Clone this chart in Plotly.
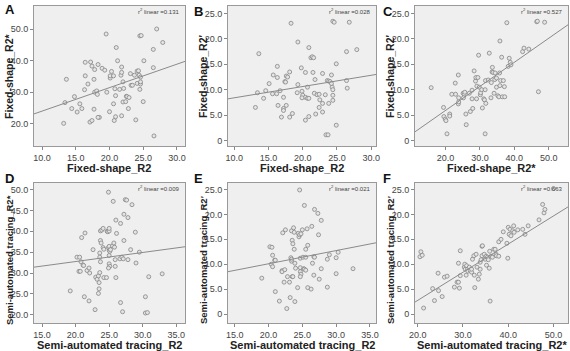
import plotly.graph_objects as go

# ---------------- data ----------------
A_x = [13.2,13.6,13.4,14.4,14.8,15.2,15.6,15.9,16.3,16.4,16.4,16.8,17.2,17.4,17.1,17.4,17.7,17.8,17.8,17.7,
       18.1,18.3,18.2,18.5,18.3,18.9,19.3,19.5,19.6,20.1,20.1,20.0,20.3,20.6,20.8,20.6,20.7,20.9,21.0,21.2,
       20.9,21.5,21.7,21.8,21.8,21.8,22.0,22.1,22.0,22.4,22.5,22.6,22.9,22.8,23.1,23.2,23.4,23.9,23.7,24.1,
       24.1,24.3,24.4,24.5,24.7,24.5,24.6,24.6,24.6,25.0,25.1,26.5,26.5,26.6,27.0,27.9]
A_y = [20.1,34.1,26.7,24.8,28.6,23.7,26.3,24.8,30.8,39.5,35.2,32.6,39.6,38.3,20.5,21.0,34.1,37.2,30.0,24.6,
       30.4,38.8,29.3,22.0,22.0,37.6,37.0,48.5,30.0,34.5,35.2,23.8,36.6,35.2,31.1,26.3,21.0,28.9,44.2,40.0,
       22.2,30.9,35.4,36.3,38.0,22.5,33.3,31.2,26.9,27.0,28.7,28.6,28.3,24.8,35.9,32.2,32.2,21.2,35.4,32.8,
       36.7,36.8,35.4,47.9,48.0,30.9,32.6,34.8,33.3,27.0,40.0,43.6,37.8,16.1,50.1,45.8]

B_x = [13.1,13.4,14.3,14.6,15.1,15.6,15.7,16.3,16.3,16.2,16.4,16.7,17.2,17.2,17.2,16.9,17.4,17.5,17.6,17.6,
       17.8,18.1,18.1,18.5,19.2,19.3,19.8,19.9,13.6,18.3,24.4,24.6,26.8,19.3,20.9,21.2,21.4,21.6,26.4,27.9,
       24.9,20.4,21.5,22.9,24.2,21.8,23.6,23.8,24.0,24.2,26.4,20.7,24.3,24.4,26.5,20.0,20.4,20.7,20.9,19.9,
       21.7,22.1,22.4,23.3,24.4,22.5,24.4,23.8,22.9,22.4,22.9,21.9,20.9,20.4,24.9,23.4,23.7]
B_y = [6.5,9.4,8.3,9.8,11.2,9.2,12.9,14.6,12.4,9.2,6.9,9.8,8.5,6.3,5.9,4.6,11.6,11.5,6.9,12.7,
       12.5,13.5,4.6,5.3,9.4,11.0,14.3,9.7,17.1,23.1,23.5,23.3,23.3,19.4,18.3,16.3,16.5,16.3,17.5,17.9,
       15.1,13.4,13.4,13.2,12.9,12.0,11.8,11.7,11.6,11.2,11.8,10.5,10.5,10.0,10.3,8.9,8.5,8.3,8.3,8.4,
       9.3,9.0,9.1,9.0,8.9,8.0,7.9,7.3,7.3,6.5,5.6,5.2,4.7,4.0,3.0,1.1,1.1]

C_x = [15.8,19.4,19.5,19.9,20.1,20.4,21.2,21.2,21.8,22.8,22.9,23.7,23.7,23.8,23.8,25.1,25.4,25.6,25.9,26.0,
       25.2,26.9,27.2,27.7,27.9,27.7,28.3,28.7,28.8,29.4,29.1,29.0,29.6,29.8,30.1,30.2,30.5,30.7,31.1,31.3,
       31.5,31.5,31.6,31.7,32.4,32.7,33.2,33.3,33.6,33.5,33.8,34.1,34.3,34.4,34.8,34.8,35.2,35.5,35.7,35.8,
       36.0,35.8,36.3,36.5,36.8,37.1,37.2,37.8,38.2,38.5,38.8,39.0,42.4,42.8,44.2,46.5,46.7,47.0,48.8]
C_y = [10.4,6.5,4.7,4.2,3.9,1.3,5.2,4.8,9.1,11.3,9.1,12.9,7.2,7.6,8.4,9.3,9.1,9.5,5.2,3.1,
       8.4,9.3,5.7,8.2,6.3,9.9,13.7,11.7,12.4,12.4,10.7,8.2,16.8,10.5,9.0,9.4,10.0,6.4,8.2,8.0,
       1.3,10.0,11.8,7.3,11.9,17.2,8.4,11.4,14.4,13.5,13.4,9.3,12.0,13.3,12.3,10.5,8.8,8.6,13.3,10.8,
       11.8,19.6,16.4,8.6,11.8,10.6,8.6,23.2,14.6,16.2,15.4,14.9,17.5,18.2,18.0,23.4,23.5,9.6,23.3]

D_x = [19.2,21.3,22.0,20.2,20.6,20.5,20.7,20.8,21.1,21.2,20.9,21.4,21.7,22.0,22.1,22.6,23.0,23.2,23.4,23.6,
       23.7,23.5,23.4,23.5,22.9,23.6,23.6,23.7,23.8,23.7,23.9,24.1,24.1,24.2,24.2,24.6,24.7,24.8,25.0,25.0,
       24.9,24.9,25.0,25.1,25.0,25.0,25.1,24.9,25.0,25.2,25.5,25.7,25.8,25.9,25.9,25.6,26.0,26.1,26.0,26.7,
       26.6,26.7,26.9,27.1,27.0,27.2,27.2,27.4,27.6,27.8,27.8,28.2,28.4,28.9,29.0,29.5,30.4,30.4,30.7,30.9,32.9]
D_y = [25.7,24.3,23.3,33.8,33.8,30.4,30.4,32.7,31.9,31.8,38.5,39.6,30.6,31.2,30.0,35.6,29.0,28.5,29.3,30.1,
       32.7,27.7,25.1,26.2,21.2,34.8,33.8,37.8,37.2,40.1,40.3,40.7,36.1,35.7,28.9,28.9,40.0,39.9,40.1,40.7,
       49.4,36.1,35.4,35.2,34.2,32.2,31.6,31.2,36.4,35.6,36.5,37.2,36.2,33.2,31.6,47.2,42.7,39.5,28.9,41.9,
       33.4,22.9,33.8,33.4,20.7,44.1,37.8,47.6,47.5,43.3,33.2,35.6,46.4,39.8,32.4,35.0,24.3,20.4,20.5,29.1,29.8]

E_x = [19.0,20.2,20.5,20.6,20.4,20.6,20.9,21.0,21.0,21.6,22.1,22.0,22.0,22.4,22.3,22.5,22.7,22.8,23.1,23.2,
       23.3,23.4,23.4,23.5,23.6,23.4,23.5,23.6,23.7,23.8,23.8,23.9,23.9,24.0,24.3,24.4,24.5,24.6,24.6,24.7,
       24.7,24.7,24.8,24.7,24.8,25.0,25.1,25.2,25.3,25.3,25.5,25.5,25.5,25.7,25.8,25.8,26.3,26.4,26.5,26.7,
       26.7,26.8,26.8,27.3,27.4,27.5,27.8,27.8,28.7,28.7,29.0,30.0,30.0,30.3,32.5]
E_y = [7.2,13.5,13.4,11.8,10.0,9.5,10.8,10.8,4.5,2.6,16.3,8.7,8.5,8.9,6.4,16.9,1.1,7.5,6.4,3.3,
       11.3,10.6,11.0,7.5,7.5,16.7,14.8,14.1,17.3,16.4,13.0,2.5,10.2,9.2,5.3,16.2,15.5,24.9,15.9,11.2,
       9.3,8.5,8.0,7.5,16.1,16.9,11.4,9.1,21.8,9.0,11.4,13.0,8.8,17.1,13.8,5.3,5.0,17.6,10.2,7.8,
       11.5,11.4,21.0,20.2,15.9,7.0,18.8,9.1,5.4,11.0,11.9,8.1,11.3,12.4,9.1]

F_x = [20.5,20.7,21.0,21.3,23.3,23.7,24.5,24.6,25.4,25.9,26.5,28.1,28.7,29.0,29.0,29.2,29.4,29.4,30.3,30.4,
       30.5,30.7,30.8,31.0,31.1,31.4,31.6,31.9,31.9,32.1,32.4,32.5,32.6,32.9,33.1,33.4,33.6,33.8,33.8,34.0,
       34.2,34.3,34.2,34.7,34.9,35.1,35.2,35.4,35.8,35.6,35.9,36.0,36.2,36.5,36.8,37.1,37.3,37.4,37.9,37.9,
       38.4,38.9,39.7,39.9,40.0,40.2,40.4,40.6,41.0,41.2,41.3,42.1,43.2,43.7,44.4,46.8,47.6,47.9,48.1,50.0]
F_y = [11.5,12.5,11.8,1.2,5.1,2.7,8.2,4.7,3.5,7.4,7.6,5.4,6.4,6.4,10.2,5.2,12.7,7.7,9.4,10.0,
       9.0,7.8,9.7,9.0,8.6,9.4,8.7,8.4,9.0,11.0,11.7,7.8,5.3,12.0,9.4,7.0,8.0,9.0,10.4,10.9,
       13.6,13.7,11.7,12.0,11.0,11.6,9.8,11.4,9.2,10.9,12.6,2.6,11.6,11.4,13.0,13.0,12.0,11.7,11.6,14.5,
       15.0,16.5,14.2,11.2,17.4,16.0,17.0,15.7,16.7,17.7,16.4,16.9,17.0,16.0,17.7,18.9,22.0,20.3,21.0,25.2]

# fit lines (value at each end of the x range)
fit_lines = {
    "A": ([8.8, 31.2], [23.1, 39.8]),
    "B": ([9.1, 30.7], [8.2, 13.0]),
    "C": ([11.1, 55.6], [1.7, 22.8]),
    "D": ([13.8, 36.3], [31.4, 36.3]),
    "E": ([14.0, 35.9], [8.5, 14.3]),
    "F": ([19.4, 53.2], [2.4, 21.5]),
}
r2_values = {"A": "0.131", "B": "0.028", "C": "0.527", "D": "0.009", "E": "0.021", "F": "0.663"}

x_titles = {"A": "Fixed-shape_R2", "B": "Fixed-shape_R2", "C": "Fixed-shape_R2*",
            "D": "Semi-automated tracing_R2", "E": "Semi-automated tracing_R2", "F": "Semi-automated tracing_R2*"}
y_titles = {"A": "Fixed-shape_R2*", "B": "Fixed-shape_R2′", "C": "Fixed-shape_R2′",
            "D": "Semi-automated tracing_R2*", "E": "Semi-automated tracing_R2′", "F": "Semi-automated tracing_R2′"}

x_ticks = {"A": [10, 15, 20, 25, 30], "B": [10, 15, 20, 25, 30], "C": [20, 30, 40, 50],
           "D": [15, 20, 25, 30, 35], "E": [15, 20, 25, 30, 35], "F": [20, 30, 40, 50]}
y_ticks = {"A": [20, 30, 40, 50], "B": [0, 5, 10, 15, 20, 25], "C": [0, 5, 10, 15, 20, 25],
           "D": [20, 25, 30, 35, 40, 45, 50], "E": [0, 5, 10, 15, 20, 25], "F": [0, 5, 10, 15, 20, 25]}

data = {"A": (A_x, A_y), "B": (B_x, B_y), "C": (C_x, C_y),
        "D": (D_x, D_y), "E": (E_x, E_y), "F": (F_x, F_y)}

# ---------------- layout geometry ----------------
W, H = 570, 351
boxes = {  # pixel boxes: left, right, top, bottom
    "A": (34, 185, 6, 146), "B": (228, 376, 6, 146), "C": (415, 568, 6, 146),
    "D": (34, 185, 183, 323), "E": (228, 376, 183, 323), "F": (415, 568, 183, 323),
}
letter_pos = {"A": (3, 10), "B": (192, 11), "C": (381, 11),
              "D": (3, 178), "E": (192, 178), "F": (381, 178)}
x_ranges = {"A": [8.8, 31.2], "B": [9.1, 30.7], "C": [11.1, 55.6],
            "D": [13.8, 36.3], "E": [14.0, 35.9], "F": [19.4, 53.2]}
y_ranges = {"A": [12.9, 57.4], "B": [-1.1, 26.5], "C": [-1.1, 26.5],
            "D": [18.0, 51.6], "E": [-1.8, 26.3], "F": [-1.8, 26.3]}

def fmt(v):
    return "0" if v == 0 else f"{v:.1f}"

fig = go.Figure()
layout = dict(width=W, height=H, margin=dict(l=0, r=0, t=0, b=0),
              paper_bgcolor="white", showlegend=False,
              font=dict(family="Liberation Sans, Arial, sans-serif", color="#333"))
annotations = []
font_tick = dict(size=9, color="#444", family="Liberation Sans, Arial, sans-serif")

for i, key in enumerate("ABCDEF"):
    n = "" if i == 0 else str(i + 1)
    l, r, t, b = boxes[key]
    xd = [l / W, r / W]
    yd = [1 - b / H, 1 - t / H]
    common = dict(showgrid=False, zeroline=False, showline=True, linecolor="#999", linewidth=1,
                  mirror=True, ticks="outside", ticklen=3, tickcolor="#888", tickwidth=1,
                  tickfont=font_tick, automargin=False)
    layout["xaxis" + n] = dict(domain=xd, range=x_ranges[key], anchor="y" + n,
                               tickvals=x_ticks[key], ticktext=[fmt(v) for v in x_ticks[key]], **common)
    layout["yaxis" + n] = dict(domain=yd, range=y_ranges[key], anchor="x" + n,
                               tickvals=y_ticks[key], ticktext=[fmt(v) for v in y_ticks[key]], **common)
    xs, ys = data[key]
    fig.add_trace(go.Scatter(x=xs, y=ys, mode="markers", xaxis="x" + n, yaxis="y" + n,
                             marker=dict(symbol="circle", size=4, color="#e4e4e4",
                                         line=dict(color="#858585", width=0.8))))
    lx, ly = fit_lines[key]
    fig.add_trace(go.Scatter(x=lx, y=ly, mode="lines", xaxis="x" + n, yaxis="y" + n,
                             line=dict(color="#8a8a8a", width=1)))
    # panel letter
    lpx, lpy = letter_pos[key]
    annotations.append(dict(text=f"<b>{key}</b>", xref="paper", yref="paper",
                            x=lpx / W, y=1 - lpy / H, xanchor="left", yanchor="middle",
                            showarrow=False, font=dict(size=13, color="#111")))
    # r2 label
    annotations.append(dict(text=f"r<sup>2</sup> linear ={r2_values[key]}", xref="paper", yref="paper",
                            x=(r - 3) / W, y=1 - (t + 5) / H, xanchor="right", yanchor="middle",
                            showarrow=False, font=dict(size=6, color="#444")))
    # x title
    annotations.append(dict(text=f"<b>{x_titles[key]}</b>", xref="paper", yref="paper",
                            x=(l + r) / 2 / W, y=1 - (b + 22) / H, xanchor="center", yanchor="middle",
                            showarrow=False, font=dict(size=11, color="#222")))
    # y title
    row2 = key in "DEF"
    ycen = (t + b) / 2 + (7 if row2 else 0)
    annotations.append(dict(text=f"<b>{y_titles[key]}</b>", xref="paper", yref="paper",
                            x=(l - 25) / W, y=1 - ycen / H, xanchor="center", yanchor="middle",
                            textangle=-90, showarrow=False,
                            font=dict(size=9.5 if row2 else 10.5, color="#222")))

layout["annotations"] = annotations
layout["plot_bgcolor"] = "#efefef"
fig.update_layout(**layout)
fig.write_html("out.html")
